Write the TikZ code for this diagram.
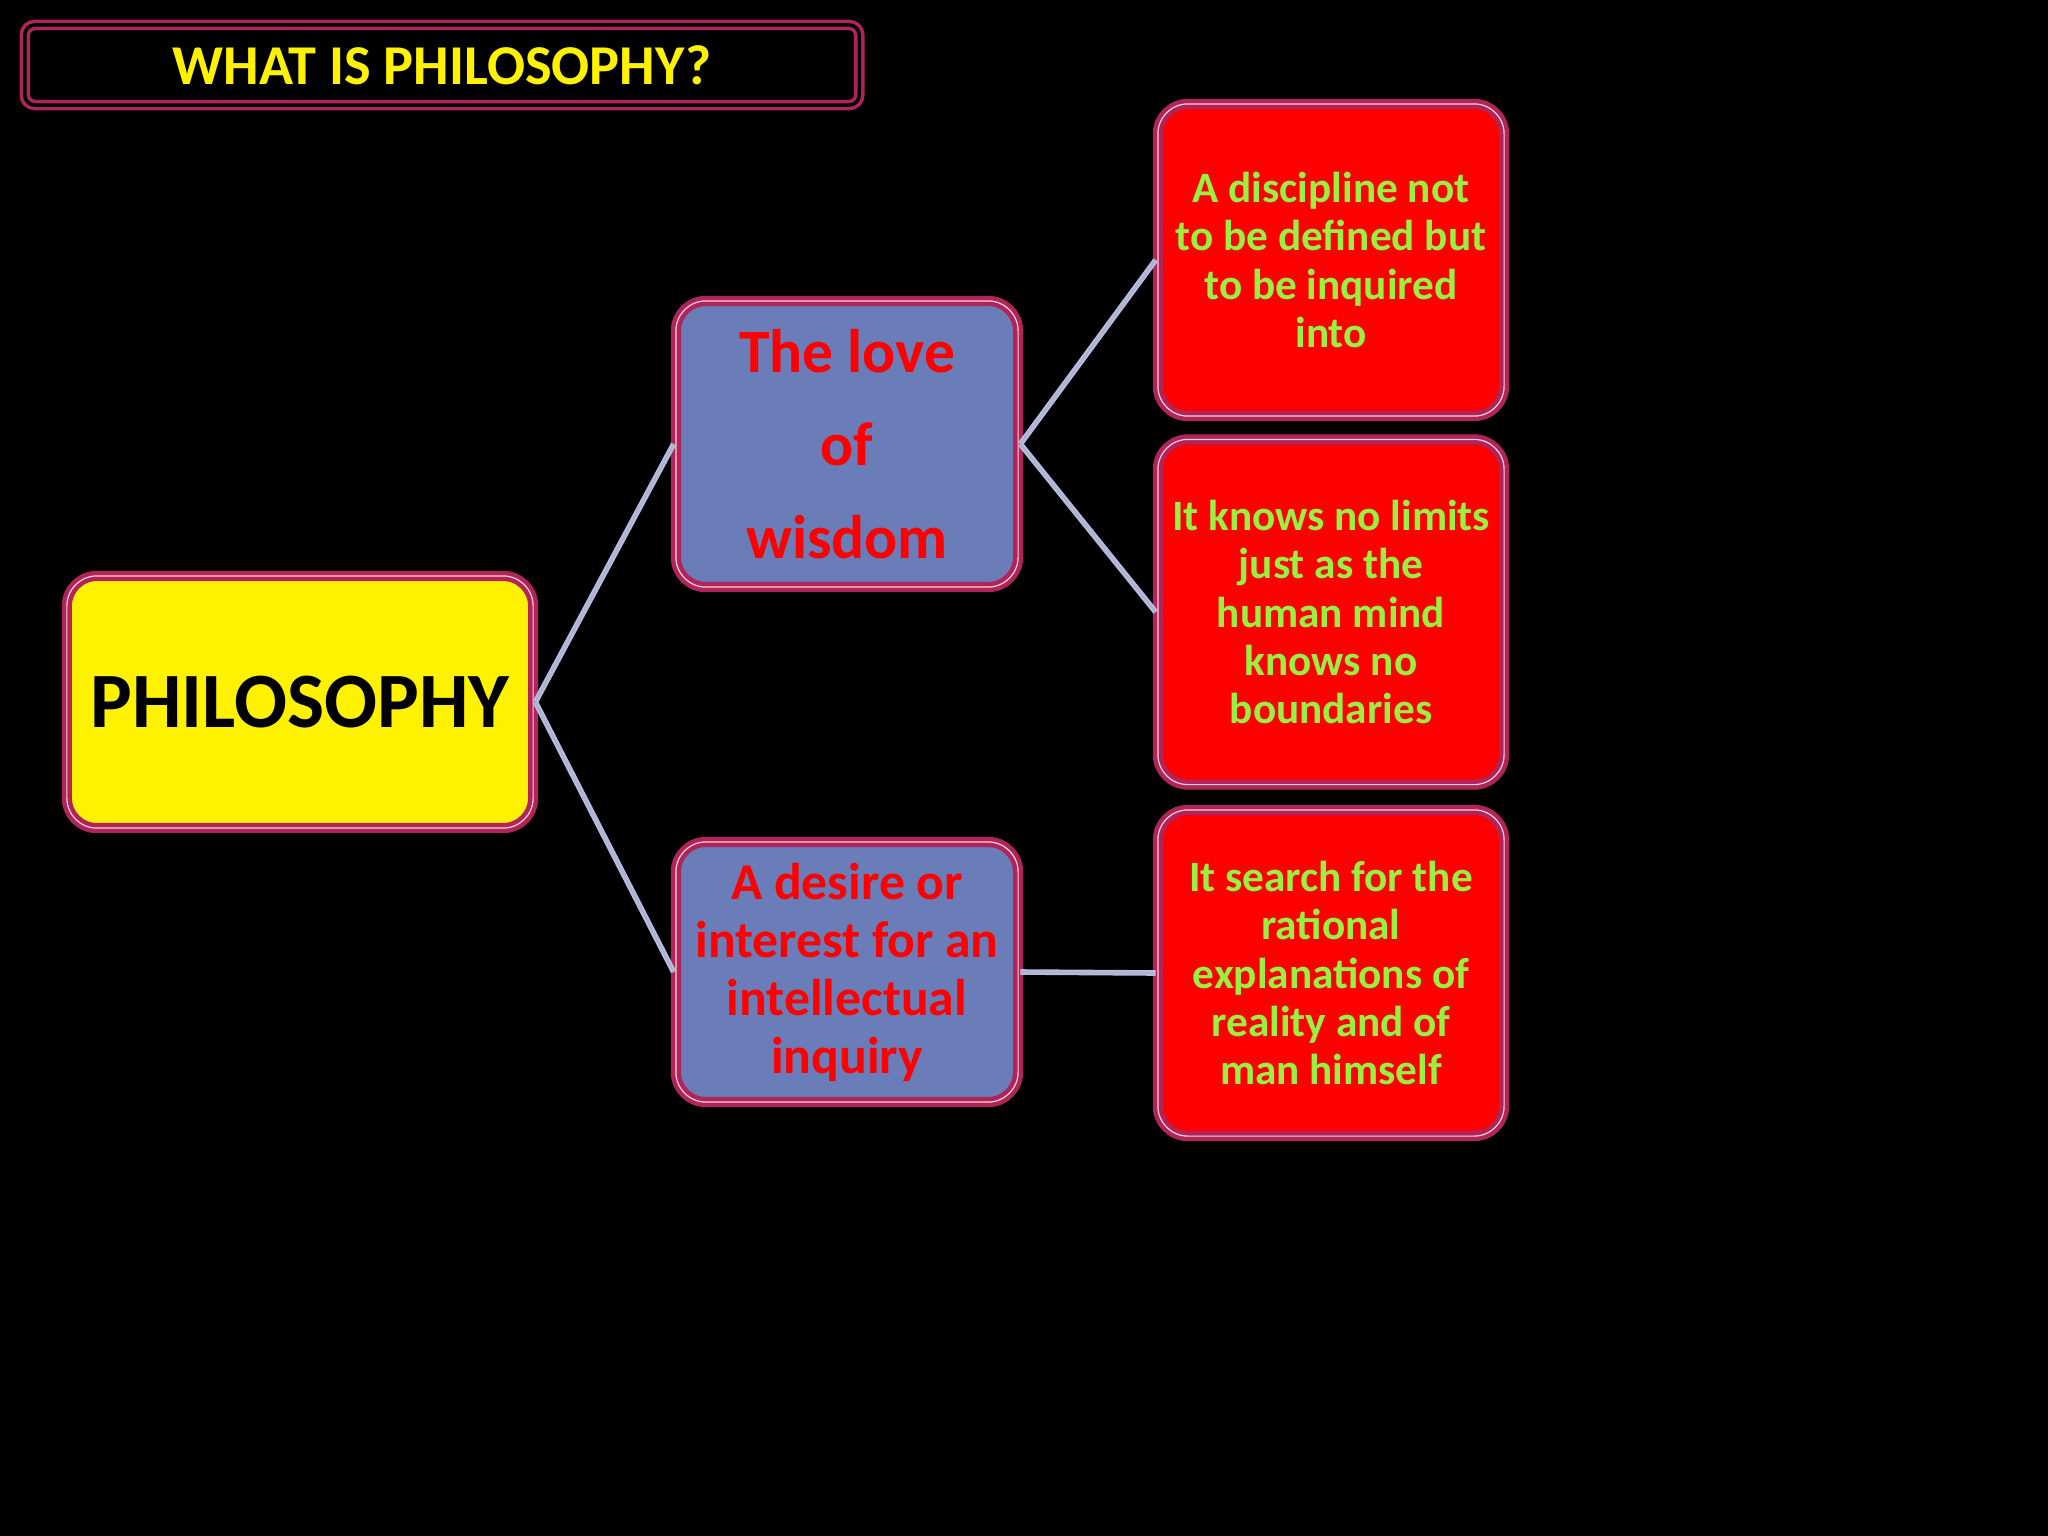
\documentclass[tikz,border=0pt]{standalone}
\usepackage{fontspec}
\setmainfont{Carlito}
\definecolor{bord}{HTML}{B0245C}
\definecolor{blu}{HTML}{6A7DB8}
\definecolor{grn}{HTML}{99F040}
\definecolor{lnk}{HTML}{B4BAE6}
\begin{document}
\begin{tikzpicture}[x=0.01cm,y=-0.01cm,
  box/.style={draw=bord,line width=0.45mm,rounded corners=3mm,double=pink!70,double distance=0.12mm,inner sep=0pt,align=center,font=\bfseries},
  conn/.style={draw=lnk,line width=0.22mm,double=gray!60,double distance=0.12mm}]
\useasboundingbox[fill=black] (0,0) rectangle (2048,1536);
\node[draw=bord,line width=0.35mm,rounded corners=1mm,double=black,double distance=0.35mm,fill=black,minimum width=8.34cm,minimum height=0.8cm,text=yellow,font=\bfseries\fontsize{16}{19}\selectfont] (t) at (442,65) {WHAT IS PHILOSOPHY?};
\node[box,fill=yellow,minimum width=4.66cm,minimum height=2.52cm,font=\bfseries\fontsize{22.3}{27}\selectfont] (p) at (300,702) {PHILOSOPHY};
\node[box,fill=blu,minimum width=3.42cm,minimum height=2.86cm,text=red,font=\bfseries\fontsize{17.5}{26.5}\selectfont] (l) at (847,444) {The love\\of\\wisdom};
\node[box,fill=blu,minimum width=3.42cm,minimum height=2.6cm,text=red,font=\bfseries\fontsize{14.7}{16.5}\selectfont] (d) at (847,972) {A desire or\\interest for an\\intellectual\\inquiry};
\node[box,fill=red,minimum width=3.46cm,minimum height=3.12cm,text=grn,font=\bfseries\fontsize{12.3}{13.7}\selectfont] (r1) at (1331,260) {A discipline not\\to be defined but\\to be inquired\\into};
\node[box,fill=red,minimum width=3.46cm,minimum height=3.45cm,text=grn,font=\bfseries\fontsize{12.3}{13.7}\selectfont] (r2) at (1331,612) {It knows no limits\\just as the\\human mind\\knows no\\boundaries};
\node[box,fill=red,minimum width=3.46cm,minimum height=3.26cm,text=grn,font=\bfseries\fontsize{12.3}{13.7}\selectfont] (r3) at (1331,973) {It search for the\\rational\\explanations of\\reality and of\\man himself};
\draw[conn] (p.east) -- (l.west);
\draw[conn] (p.east) -- (d.west);
\draw[conn] (l.east) -- (r1.west);
\draw[conn] (l.east) -- (r2.west);
\draw[conn] (d.east) -- (r3.west);
\end{tikzpicture}
\end{document}
